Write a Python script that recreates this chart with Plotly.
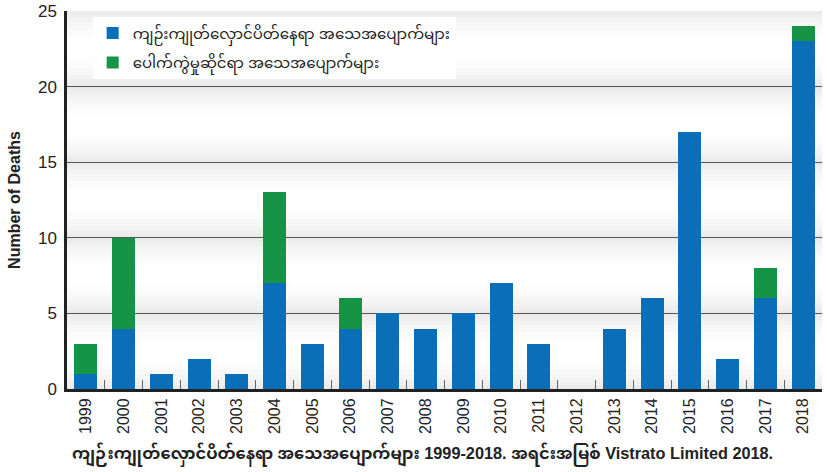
import plotly.graph_objects as go

years = [str(y) for y in range(1999, 2019)]
mine_deaths = [1, 4, 1, 2, 1, 7, 3, 4, 5, 4, 5, 7, 3, 0, 4, 6, 17, 2, 6, 23]
explosion_deaths = [2, 6, 0, 0, 0, 6, 0, 2, 0, 0, 0, 0, 0, 0, 0, 0, 0, 0, 2, 1]
series_names = ["ကျဉ်းကျုတ်လှောင်ပိတ်နေရာ အသေအပျောက်များ", "ပေါက်ကွဲမှုဆိုင်ရာ အသေအပျောက်များ"]
y_ticks = [0, 5, 10, 15, 20, 25]
caption = "ကျဉ်းကျုတ်လှောင်ပိတ်နေရာ အသေအပျောက်များ 1999-2018. အရင်းအမြစ် Vistrato Limited 2018."

BLUE = "#0a6eb8"
GREEN = "#169446"
FONT = "Liberation Sans, Arial, Noto Sans Myanmar, Padauk, sans-serif"

fig = go.Figure()
fig.add_bar(x=years, y=mine_deaths, name=series_names[0], marker_color=BLUE,
            marker_line_width=0, legendgroup="a")
fig.add_bar(x=years, y=explosion_deaths, name=series_names[1], marker_color=GREEN,
            marker_line_width=0, legendgroup="b")

# soft grey gradient bands between gridlines
shapes = []
n = 20
for k in range(5):
    lo = k * 5
    for i in range(n):
        y0 = lo + 5 * i / n
        y1 = lo + 5 * (i + 1) / n
        c = (i + 0.5) / n
        d = abs(c - 0.5) * 2
        a = 0.085 * d ** 2
        shapes.append(dict(type="rect", xref="paper", yref="y", x0=0, x1=1, y0=y0, y1=y1,
                           fillcolor=f"rgba(0,0,0,{a:.4f})", line_width=0, layer="below"))

fig.update_layout(
    barmode="stack",
    bargap=0.39,
    width=827, height=472,
    margin=dict(l=67, r=5, t=11, b=83, autoexpand=False),
    paper_bgcolor="white",
    plot_bgcolor="white",
    font=dict(family=FONT, color="#222"),
    shapes=shapes,
    showlegend=True,
    legend=dict(x=0.034, y=0.985, xanchor="left", yanchor="top", bgcolor="white",
                font=dict(size=15, color="#222"), tracegroupgap=7,
                traceorder="grouped"),
    annotations=[dict(text="<b>" + caption + "</b>", xref="paper", yref="paper",
                      x=0.004, y=-0.1746, xanchor="left", yanchor="middle", showarrow=False,
                      font=dict(size=16.3, color="#222"))],
)
fig.update_xaxes(
    type="category", tickangle=-90, tickfont=dict(size=16, color="#222"),
    showline=True, linecolor="#222", linewidth=3,
    ticks="inside", tickson="boundaries", ticklen=9, tickcolor="#666", tickwidth=1,
    showgrid=False, automargin=False,
)
fig.update_yaxes(
    range=[0, 25], tickvals=y_ticks, tickfont=dict(size=17, color="#222"),
    showline=True, linecolor="#222", linewidth=2.5, mirror=False,
    showgrid=True, gridcolor="#555", gridwidth=1.2, zeroline=False,
    title=dict(text="<b>Number of Deaths</b>", font=dict(size=16, color="#222"), standoff=14),
    ticks="", ticklabelstandoff=4, automargin=False,
)
fig.write_html("out.html", config={"displayModeBar": False},
               post_script="document.body.style.margin='0';")
